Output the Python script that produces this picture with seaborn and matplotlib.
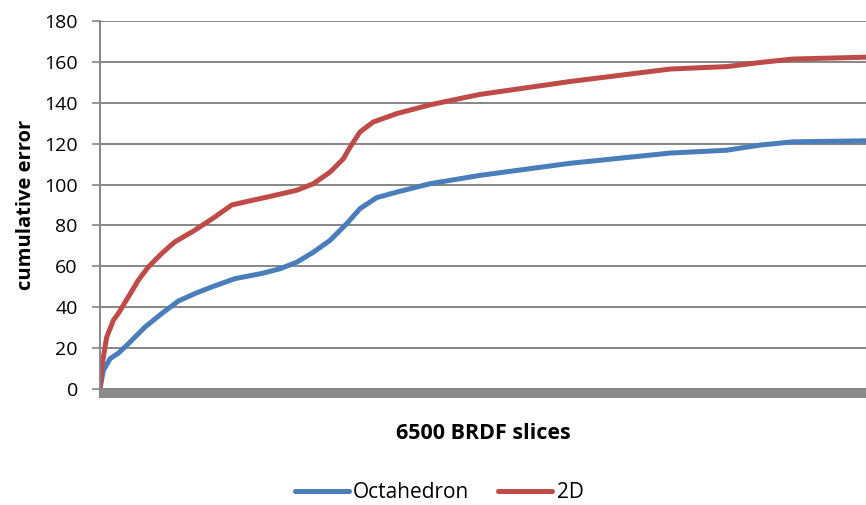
import numpy as np
import pandas as pd
import matplotlib
matplotlib.use("Agg")
import matplotlib.pyplot as plt
import seaborn as sns

# ---- data ----
series_names = ["Octahedron", "2D"]
oct_x = [0, 28, 85, 155, 240, 382, 524, 664, 806, 948, 1146, 1372, 1527, 1669, 1810,
         1952, 2094, 2206, 2348, 2518, 2800, 3225, 3989, 4837, 5318, 5601, 5881, 6500]
oct_y = [0, 9, 14.8, 17.5, 22.1, 30.3, 36.9, 43, 46.7, 49.9, 54, 56.5, 58.8, 62, 66.9,
         72.7, 80.9, 88.2, 93.6, 96.3, 100.4, 104.5, 110.4, 115.4, 116.8, 119.3, 120.9, 121.4]
d2_x = [0, 14, 57, 113, 155, 240, 325, 410, 524, 636, 806, 976, 1118, 1230, 1428, 1669,
        1810, 1952, 2065, 2122, 2206, 2319, 2518, 2800, 3225, 3989, 4837, 5318, 5601, 5881, 6500]
d2_y = [0, 10.7, 25.4, 33.6, 36.9, 45, 53.2, 59.7, 66.3, 72, 77.7, 84.2, 90, 91.5, 94, 97.2,
        100.4, 106.1, 112.6, 118.3, 125.7, 130.6, 134.7, 139, 144.1, 150.4, 156.5, 157.7,
        159.7, 161.4, 162.3]
y_ticks = [0, 20, 40, 60, 80, 100, 120, 140, 160, 180]
x_label = "6500 BRDF slices"
y_label = "cumulative error"

df = pd.concat([
    pd.DataFrame({"slice": oct_x, "error": oct_y, "series": series_names[0]}),
    pd.DataFrame({"slice": d2_x, "error": d2_y, "series": series_names[1]}),
], ignore_index=True)

sns.set_theme(style="white")
plt.rcParams["font.family"] = ["Open Sans", "DejaVu Sans"]
plt.rcParams["text.color"] = "black"
plt.rcParams["axes.labelcolor"] = "black"

fig = plt.figure(figsize=(8.66, 5.05), dpi=100)
ax = fig.add_axes([100 / 866, 1 - 389 / 505, 1 - 100 / 866, (389 - 21) / 505])

grid_c = "#868686"
sns.lineplot(data=df, x="slice", y="error", hue="series", sort=False,
             palette={"Octahedron": "#4A7EBB", "2D": "#BE4B48"},
             linewidth=3.6, ax=ax, legend=False, estimator=None)
for ln in ax.lines:
    ln.set_solid_joinstyle("round")

ax.set_xlim(0, 6500)
ax.set_ylim(0, 180)
ax.set_yticks(y_ticks)
ax.set_yticklabels([str(v) for v in y_ticks], fontsize=14, color="black")
ax.yaxis.grid(True, color=grid_c, linewidth=1.4)
ax.xaxis.grid(False)
ax.set_axisbelow(True)

# dense x ticks form the grey band under the axis
ax.set_xticks(np.arange(0, 6501, 10))
ax.set_xticklabels([])
ax.tick_params(axis="x", direction="out", length=6.2, width=1.6, color="#8a8a8a",
               bottom=True, pad=0)
ax.tick_params(axis="y", direction="out", length=6, width=1.2, color=grid_c,
               left=True, pad=10)

for s in ["top", "right"]:
    ax.spines[s].set_visible(False)
ax.spines["left"].set_color(grid_c)
ax.spines["left"].set_linewidth(1.4)
ax.spines["bottom"].set_color(grid_c)
ax.spines["bottom"].set_linewidth(1.4)

ax.set_xlabel(x_label, fontsize=15.5, fontweight="bold", labelpad=18, color="black")
ax.set_ylabel(y_label, fontsize=14.5, fontweight="bold", labelpad=6, color="black")

handles = [plt.Line2D([], [], color="#4A7EBB", linewidth=3.6),
           plt.Line2D([], [], color="#BE4B48", linewidth=3.6)]
leg = fig.legend(handles, series_names, loc="center", bbox_to_anchor=(439 / 866, 1 - 493 / 505),
                 ncol=2, frameon=False, fontsize=15, handlelength=2.6, handletextpad=0.2,
                 columnspacing=1.4)
for t in leg.get_texts():
    t.set_color("black")

fig.savefig("out.png", dpi=100)
